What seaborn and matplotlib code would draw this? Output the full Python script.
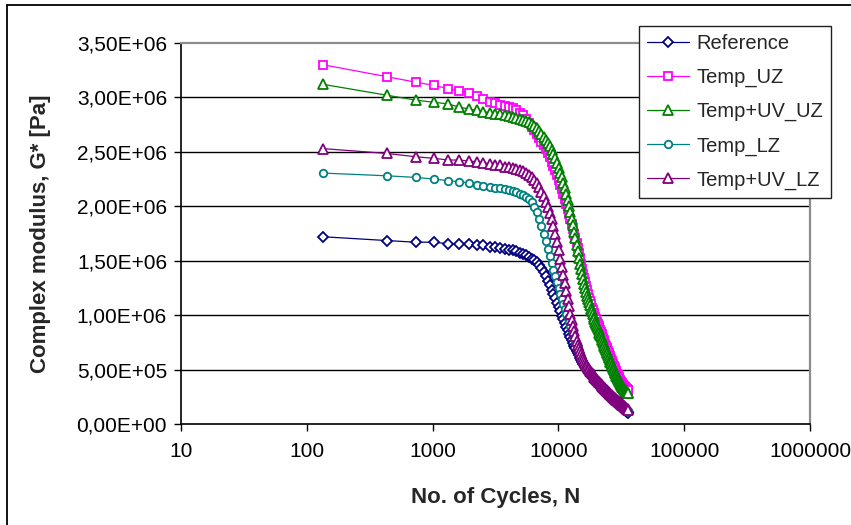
import numpy as np
import pandas as pd
import seaborn as sns
import matplotlib
matplotlib.use("Agg")
import matplotlib.pyplot as plt
from matplotlib.lines import Line2D

# ---------------- data (G* in units of 1e4 Pa) ----------------
UNIT = 1e4

cycles = [
    135, 435, 735, 1035, 1335, 1635, 1935, 2235, 2535, 2835,
    3135, 3435, 3735, 4035, 4335, 4635, 4935, 5235, 5535, 5835,
    6135, 6435, 6735, 7035, 7335, 7635, 7935, 8235, 8535, 8835,
    9135, 9435, 9735, 10035, 10335, 10635, 10935, 11235, 11535, 11835,
    12135, 12435, 12735, 13035, 13335, 13635, 13935, 14235, 14535, 14835,
    15135, 15435, 15735, 16035, 16335, 16635, 16935, 17235, 17535, 17835,
    18135, 18435, 18735, 19035, 19335, 19635, 19935, 20235, 20535, 20835,
    21135, 21435, 21735, 22035, 22335, 22635, 22935, 23235, 23535, 23835,
    24135, 24435, 24735, 25035, 25335, 25635, 25935, 26235, 26535, 26835,
    27135, 27435, 27735, 28035, 28335, 28635, 28935, 29235, 29535, 29835,
    30135, 30435, 30735, 31035, 31335, 31635, 31935, 32235, 32535, 32835,
    33135, 33435, 33735, 34035, 34335, 34635, 34935, 35235, 35535, 35835,
]

reference = [
    172, 168.5, 167, 167, 165.5, 165.5, 165, 164.5, 164, 163,
    162.5, 161.5, 161, 160, 159.5, 158.5, 157.5, 156, 155, 153.5,
    152, 150.5, 148.5, 146, 143, 139.5, 135.5, 131.5, 127.5, 123.5,
    119.5, 115.5, 111.5, 107.5, 103.5, 99.5, 96, 92.5, 89, 86,
    83, 80, 77, 74.5, 72, 69.5, 67, 65, 63, 61,
    59, 57, 55.5, 54, 52.5, 51, 50, 48.8, 47.6, 46.5,
    45.4, 44.3, 43.2, 42.2, 41.2, 40.2, 39.2, 38.3, 37.4, 36.5,
    35.6, 34.8, 34, 33.2, 32.4, 31.6, 30.9, 30.2, 29.5, 28.8,
    28.1, 27.5, 26.9, 26.3, 25.7, 25.1, 24.5, 24, 23.5, 23,
    22.5, 22, 21.5, 21, 20.5, 20, 19.5, 19.1, 18.7, 18.3,
    17.9, 17.5, 17.1, 16.7, 16.3, 15.9, 15.5, 15.1, 14.7, 14.3,
    13.9, 13.5, 13.1, 12.7, 12.3, 11.9, 11.5, 11.1, 10.7, 10.3,
]

temp_uz = [
    330, 319, 314, 311, 308, 306, 304.5, 301, 298.5, 296,
    294.5, 293.5, 292.5, 291.5, 290, 288.5, 286, 283.5, 280, 276.5,
    273, 270, 266.5, 263, 259.5, 256, 252.5, 248.5, 245, 241,
    237, 233, 229, 224.5, 220, 215.5, 211, 206.5, 202, 197.5,
    193, 188.5, 184, 179.5, 175, 170.5, 166, 161.5, 157, 152.5,
    147, 142.5, 138, 134, 130, 126.5, 123, 119.5, 116, 113,
    110, 107, 104.5, 102, 100, 98, 96, 94, 92, 90,
    88, 86, 84.2, 82.4, 80.6, 78.8, 77, 75.3, 73.6, 71.9,
    70.2, 68.6, 67, 65.4, 63.8, 62.3, 60.8, 59.3, 57.8, 56.4,
    55, 53.6, 52.3, 51, 49.7, 48.4, 47.2, 46, 44.9, 43.8,
    42.8, 41.8, 40.8, 39.9, 39, 38.2, 37.4, 36.7, 36, 35.4,
    34.8, 34.3, 33.8, 33.3, 32.9, 32.5, 32.1, 31.8, 31.5, 31.2,
]

temp_uv_uz = [
    312, 302, 297.5, 295.5, 294, 291, 289.5, 288, 287, 286,
    285, 284.5, 283.5, 282.5, 282, 281, 280.5, 279.5, 278.5, 277,
    275.5, 273.5, 271.5, 269, 266.5, 264, 261, 258, 255, 251.5,
    248, 244, 240, 235.5, 231, 226.5, 221.5, 216.5, 211, 205.5,
    200, 194.5, 188.5, 182.5, 176.5, 170.5, 164.5, 158.5, 152.5, 147,
    142, 137.5, 133, 129, 125, 121.5, 118, 115, 112, 109,
    106, 103.5, 101, 98.5, 96, 94, 92, 90, 88, 86,
    84, 82.2, 80.4, 78.6, 76.8, 75, 73.3, 71.6, 69.9, 68.2,
    66.6, 65, 63.4, 61.8, 60.3, 58.8, 57.3, 55.9, 54.5, 53.1,
    51.8, 50.5, 49.2, 48, 46.8, 45.6, 44.5, 43.4, 42.3, 41.3,
    40.3, 39.3, 38.4, 37.5, 36.7, 35.9, 35.1, 34.4, 33.7, 33,
    32.4, 31.8, 31.2, 30.7, 30.2, 29.7, 29.3, 28.9, 28.5, 28.1,
]

temp_lz = [
    230.5, 228, 226.5, 225, 223.5, 222.5, 221.5, 220, 219, 218,
    217, 216.5, 215.5, 215, 214, 213, 211.5, 210, 208.5, 206.5,
    203.5, 199.5, 194.5, 188.5, 182, 175, 168, 161, 154, 147.5,
    141.5, 135.5, 130, 124.5, 119.5, 114.5, 110, 105.5, 101.5, 97.5,
    93.5, 90, 86.5, 83, 79.5, 76.5, 73.5, 70.5, 67.5, 64.5,
    62, 59.5, 57, 54.5, 52.5, 50.5, 48.8, 47.6, 46.6, 45.6,
    44.7, 43.8, 43, 42.2, 41.4, 40.6, 39.8, 39, 38.2, 37.4,
    36.6, 35.9, 35.2, 34.5, 33.8, 33.1, 32.4, 31.7, 31, 30.3,
    29.6, 29, 28.4, 27.8, 27.2, 26.6, 26, 25.5, 25, 24.5,
    24, 23.5, 23, 22.5, 22, 21.5, 21, 20.6, 20.2, 19.8,
    19.4, 19, 18.6, 18.2, 17.8, 17.4, 17, 16.6, 16.2, 15.8,
    15.4, 15, 14.6, 14.2, 13.8, 13.4, 13, 12.6, 12.2, 11.8,
]

temp_uv_lz = [
    253, 248.5, 245.5, 244, 242.5, 242.5, 241.5, 241, 240, 239,
    238, 237.5, 236.5, 236, 235.5, 234.5, 233.5, 232, 230.5, 228.5,
    226.5, 224, 221, 217.5, 213.5, 209, 204, 199.5, 194, 188,
    181.5, 174.5, 167, 159.5, 152, 144.5, 137, 129.5, 122, 115,
    108, 101.5, 95.5, 90, 85, 80.5, 76.5, 73, 70, 67,
    64.5, 62, 60, 58, 56.2, 54.5, 53, 51.5, 50.2, 49,
    47.8, 46.7, 45.6, 44.6, 43.6, 42.6, 41.7, 40.8, 39.9, 39,
    38.2, 37.4, 36.6, 35.8, 35, 34.3, 33.6, 32.9, 32.2, 31.5,
    30.9, 30.3, 29.7, 29.1, 28.5, 27.9, 27.3, 26.7, 26.2, 25.7,
    25.2, 24.7, 24.2, 23.7, 23.2, 22.7, 22.2, 21.8, 21.4, 21,
    20.6, 20.2, 19.8, 19.4, 19, 18.6, 18.2, 17.8, 17.4, 17,
    16.6, 16.2, 15.8, 15.4, 15, 14.6, 14.2, 13.8, 13.4, 13,
]

series_names = ["Reference", "Temp_UZ", "Temp+UV_UZ", "Temp_LZ", "Temp+UV_LZ"]
series_values = [reference, temp_uz, temp_uv_uz, temp_lz, temp_uv_lz]

y_ticks = [0, 5e5, 1e6, 1.5e6, 2e6, 2.5e6, 3e6, 3.5e6]
y_tick_labels = ["0,00E+00", "5,00E+05", "1,00E+06", "1,50E+06",
                 "2,00E+06", "2,50E+06", "3,00E+06", "3,50E+06"]
x_ticks = [10, 100, 1000, 10000, 100000, 1000000]
x_tick_labels = ["10", "100", "1000", "10000", "100000", "1000000"]

# ---------------- styling ----------------
colors = ["#000080", "#FF00FF", "#008000", "#008080", "#800080"]
markers = ["D", "s", "^", "o", "^"]
msizes = [5.0, 5.6, 6.6, 5.4, 6.6]

sns.set_style("white")
plt.rcParams["font.family"] = ["Liberation Sans", "DejaVu Sans"]

W, H = 851, 525
fig = plt.figure(figsize=(W / 100, H / 100), dpi=100)
L, R, T, B = 181, 810, 43, 424
ax = fig.add_axes([L / W, 1 - B / H, (R - L) / W, (B - T) / H])

for name, vals, c, m, ms in zip(series_names, series_values, colors, markers, msizes):
    df = pd.DataFrame({"N": cycles, "G": np.asarray(vals, dtype=float) * UNIT})
    sns.lineplot(data=df, x="N", y="G", ax=ax, color=c, marker=m,
                 markersize=ms, markerfacecolor="white", markeredgecolor=c,
                 markeredgewidth=1.3, linewidth=0.9, label=name,
                 estimator=None, sort=False)

ax.set_xscale("log")
ax.set_xlim(10, 1e6)
ax.set_ylim(0, 3.5e6)
ax.set_xticks(x_ticks)
ax.set_xticklabels(x_tick_labels)
ax.xaxis.set_minor_locator(matplotlib.ticker.NullLocator())
ax.set_yticks(y_ticks)
ax.set_yticklabels(y_tick_labels)

ax.grid(False)
for yv in y_ticks[1:-1]:
    ax.axhline(yv, color="black", lw=1.0, zorder=0.5)

for s in ["left", "bottom"]:
    ax.spines[s].set_color("black")
    ax.spines[s].set_linewidth(1.2)
for s in ["top", "right"]:
    ax.spines[s].set_color("#8c8c8c")
    ax.spines[s].set_linewidth(1.6)

ax.tick_params(axis="both", which="major", direction="out", length=5,
               width=1, color="black", labelsize=15, labelcolor="black")
ax.tick_params(axis="x", pad=8)
ax.tick_params(axis="y", pad=5)
ax.tick_params(left=True, bottom=True)

ax.set_xlabel("No. of Cycles, N", fontsize=16, fontweight="bold", va="center")
ax.set_ylabel("Complex modulus, G* [Pa]", fontsize=16, fontweight="bold", va="center")
ax.xaxis.set_label_coords(0.5, (B - 497) / (B - T))
ax.yaxis.set_label_coords((41 - L) / (R - L), 0.5)

leg = ax.legend(loc="upper right", bbox_to_anchor=(831 / W, 1 - 26 / H),
                bbox_transform=fig.transFigure, borderaxespad=0,
                frameon=True, fancybox=False, fontsize=14.5,
                handlelength=2.1, handletextpad=0.35, labelspacing=0.74,
                borderpad=0.4)
leg.get_frame().set_edgecolor("#202020")
leg.get_frame().set_linewidth(1.0)
leg.get_frame().set_alpha(1)

# outer chart border (cropped on right and bottom like the reference)
fig.add_artist(Line2D([7 / W, 7 / W], [0, 1 - 5 / H], transform=fig.transFigure,
                      color="black", lw=1.3))
fig.add_artist(Line2D([7 / W, 1.0], [1 - 5 / H, 1 - 5 / H], transform=fig.transFigure,
                      color="black", lw=1.3))

fig.savefig("out.png", dpi=100, facecolor="white")
